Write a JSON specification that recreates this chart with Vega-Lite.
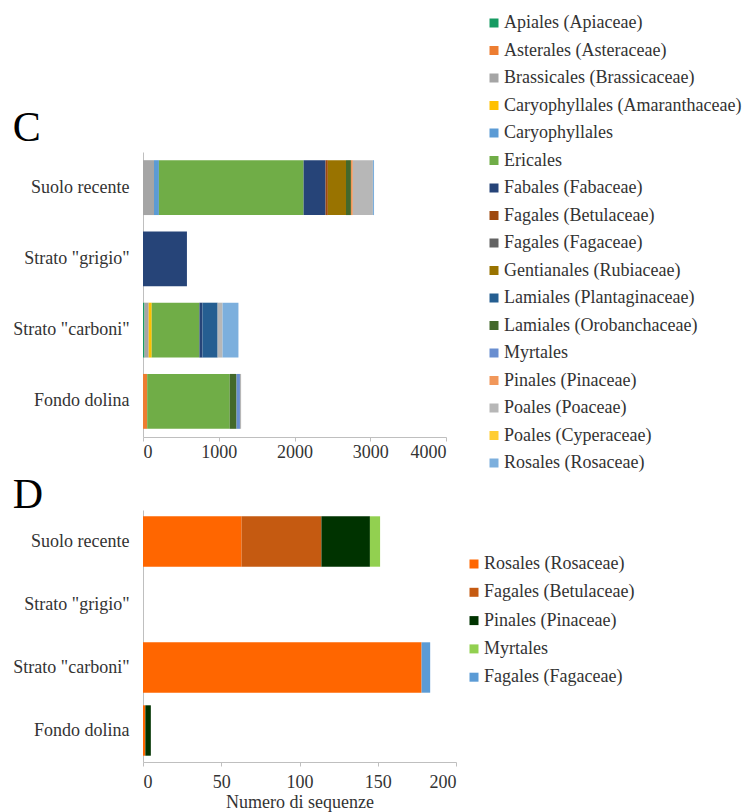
{
  "$schema": "https://vega.github.io/schema/vega-lite/v6.json",
  "background": "white",
  "padding": {"left": 12, "top": 14, "right": 5, "bottom": 2},
  "spacing": 2,
  "config": {
    "view": {"stroke": null},
    "font": "Liberation Serif",
    "axis": {"labelFont": "Liberation Serif", "labelFontSize": 18, "labelColor": "#333333", "domainColor": "#bfbfbf", "tickColor": "#bfbfbf", "grid": false, "titleFont": "Liberation Serif", "titleFontSize": 18, "titleFontWeight": "normal", "titleColor": "#333333"},
    "legend": {"orient": "none", "title": null, "symbolType": "square", "symbolSize": 81, "symbolStrokeWidth": 0, "labelFont": "Liberation Serif", "labelFontSize": 18, "labelColor": "#333333", "labelLimit": 400, "labelOffset": 1, "padding": 0},
    "title": {"font": "Liberation Serif", "fontSize": 42, "fontWeight": "normal", "color": "#000000", "anchor": "start", "baseline": "alphabetic"}
  },
  "datasets": {
    "c": [
      {"strato": "Suolo recente", "taxon": "Brassicales (Brassicaceae)", "o": 2, "n": 145},
      {"strato": "Suolo recente", "taxon": "Caryophyllales", "o": 4, "n": 65},
      {"strato": "Suolo recente", "taxon": "Ericales", "o": 5, "n": 1910},
      {"strato": "Suolo recente", "taxon": "Fabales (Fabaceae)", "o": 6, "n": 290},
      {"strato": "Suolo recente", "taxon": "Fagales (Betulaceae)", "o": 7, "n": 30},
      {"strato": "Suolo recente", "taxon": "Gentianales (Rubiaceae)", "o": 9, "n": 240},
      {"strato": "Suolo recente", "taxon": "Lamiales (Orobanchaceae)", "o": 11, "n": 65},
      {"strato": "Suolo recente", "taxon": "Pinales (Pinaceae)", "o": 13, "n": 25},
      {"strato": "Suolo recente", "taxon": "Poales (Poaceae)", "o": 14, "n": 265},
      {"strato": "Suolo recente", "taxon": "Rosales (Rosaceae)", "o": 16, "n": 15},
      {"strato": "Strato \"grigio\"", "taxon": "Fabales (Fabaceae)", "o": 6, "n": 580},
      {"strato": "Strato \"carboni\"", "taxon": "Apiales (Apiaceae)", "o": 0, "n": 20},
      {"strato": "Strato \"carboni\"", "taxon": "Brassicales (Brassicaceae)", "o": 2, "n": 55},
      {"strato": "Strato \"carboni\"", "taxon": "Caryophyllales (Amaranthaceae)", "o": 3, "n": 40},
      {"strato": "Strato \"carboni\"", "taxon": "Ericales", "o": 5, "n": 630},
      {"strato": "Strato \"carboni\"", "taxon": "Fabales (Fabaceae)", "o": 6, "n": 40},
      {"strato": "Strato \"carboni\"", "taxon": "Lamiales (Plantaginaceae)", "o": 10, "n": 200},
      {"strato": "Strato \"carboni\"", "taxon": "Poales (Poaceae)", "o": 14, "n": 65},
      {"strato": "Strato \"carboni\"", "taxon": "Rosales (Rosaceae)", "o": 16, "n": 210},
      {"strato": "Fondo dolina", "taxon": "Asterales (Asteraceae)", "o": 1, "n": 55},
      {"strato": "Fondo dolina", "taxon": "Ericales", "o": 5, "n": 1090},
      {"strato": "Fondo dolina", "taxon": "Lamiales (Orobanchaceae)", "o": 11, "n": 90},
      {"strato": "Fondo dolina", "taxon": "Myrtales", "o": 12, "n": 45},
      {"strato": "Fondo dolina", "taxon": "Poales (Poaceae)", "o": 14, "n": 15}
    ],
    "d": [
      {"strato": "Suolo recente", "taxon": "Rosales (Rosaceae)", "o": 0, "n": 63},
      {"strato": "Suolo recente", "taxon": "Fagales (Betulaceae)", "o": 1, "n": 51},
      {"strato": "Suolo recente", "taxon": "Pinales (Pinaceae)", "o": 2, "n": 31},
      {"strato": "Suolo recente", "taxon": "Myrtales", "o": 3, "n": 6.5},
      {"strato": "Strato \"carboni\"", "taxon": "Rosales (Rosaceae)", "o": 0, "n": 178},
      {"strato": "Strato \"carboni\"", "taxon": "Fagales (Fagaceae)", "o": 4, "n": 5.5},
      {"strato": "Fondo dolina", "taxon": "Rosales (Rosaceae)", "o": 0, "n": 1.5},
      {"strato": "Fondo dolina", "taxon": "Pinales (Pinaceae)", "o": 2, "n": 3.5}
    ]
  },
  "resolve": {"scale": {"color": "independent", "x": "independent"}, "legend": {"color": "independent"}},
  "vconcat": [
    {
      "width": 303,
      "height": 285,
      "title": {"text": "C", "offset": -136},
      "data": {"name": "c"},
      "mark": {"type": "bar"},
      "encoding": {
        "y": {"field": "strato", "type": "nominal", "sort": null,
          "scale": {"domain": ["Suolo recente", "Strato \"grigio\"", "Strato \"carboni\"", "Fondo dolina"], "paddingInner": 0.23, "paddingOuter": 0.115},
          "axis": {"title": null, "ticks": false, "labelPadding": 14}},
        "x": {"field": "n", "type": "quantitative", "stack": "zero",
          "scale": {"domain": [0, 4000], "nice": false},
          "axis": {"title": null, "values": [0, 1000, 2000, 3000, 4000], "format": "d", "tickSize": 4, "labelPadding": 2}},
        "color": {"field": "taxon", "type": "nominal",
          "scale": {
            "domain": ["Apiales (Apiaceae)", "Asterales (Asteraceae)", "Brassicales (Brassicaceae)", "Caryophyllales (Amaranthaceae)", "Caryophyllales", "Ericales", "Fabales (Fabaceae)", "Fagales (Betulaceae)", "Fagales (Fagaceae)", "Gentianales (Rubiaceae)", "Lamiales (Plantaginaceae)", "Lamiales (Orobanchaceae)", "Myrtales", "Pinales (Pinaceae)", "Poales (Poaceae)", "Poales (Cyperaceae)", "Rosales (Rosaceae)"],
            "range": ["#169B62", "#ED7D31", "#A5A5A5", "#FFC000", "#5B9BD5", "#70AD47", "#264478", "#9E480E", "#636363", "#997300", "#255E91", "#43682B", "#698ED0", "#F1975A", "#B7B7B7", "#FFCD33", "#7CAFDD"]
          },
          "legend": {"legendX": 342, "legendY": -138, "rowPadding": 9.5}},
        "order": {"field": "o", "type": "quantitative"}
      }
    },
    {
      "width": 313,
      "height": 252,
      "title": {"text": "D", "offset": -7},
      "data": {"name": "d"},
      "mark": {"type": "bar"},
      "encoding": {
        "y": {"field": "strato", "type": "nominal", "sort": null,
          "scale": {"domain": ["Suolo recente", "Strato \"grigio\"", "Strato \"carboni\"", "Fondo dolina"], "paddingInner": 0.2, "paddingOuter": 0.1},
          "axis": {"title": null, "ticks": false, "labelPadding": 14}},
        "x": {"field": "n", "type": "quantitative", "stack": "zero",
          "scale": {"domain": [0, 200], "nice": false},
          "axis": {"title": "Numero di sequenze", "values": [0, 50, 100, 150, 200], "format": "d", "tickSize": 4, "labelPadding": 7, "titlePadding": 2}},
        "color": {"field": "taxon", "type": "nominal",
          "scale": {
            "domain": ["Rosales (Rosaceae)", "Fagales (Betulaceae)", "Pinales (Pinaceae)", "Myrtales", "Fagales (Fagaceae)"],
            "range": ["#FF6600", "#C55A11", "#003300", "#92D050", "#5B9BD5"]
          },
          "legend": {"legendX": 322, "legendY": 45, "rowPadding": 10.3}},
        "order": {"field": "o", "type": "quantitative"}
      }
    }
  ]
}
